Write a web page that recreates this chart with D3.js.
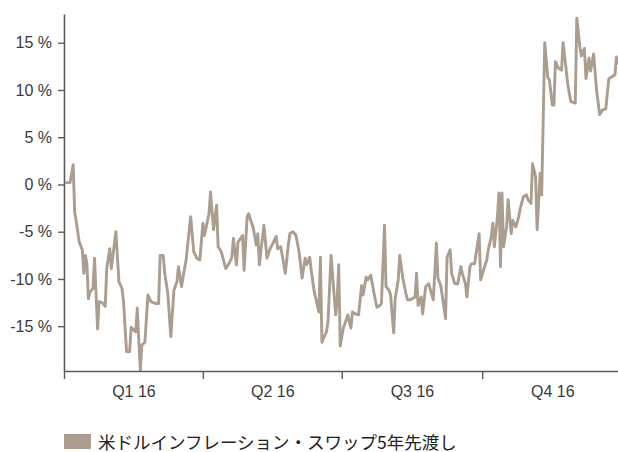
<!DOCTYPE html>
<html><head><meta charset="utf-8">
<script src="https://cdn.jsdelivr.net/npm/d3@7"></script>
<style>body{margin:0;background:#fff} svg{display:block}</style>
</head><body>
<svg id="c" width="618" height="452"></svg>
<script>
const seriesName = "米ドルインフレーション・スワップ5年先渡し";
const startDay = "2016-01-01";
const endDay = "2016-12-29";
// day offsets from 2016-01-01
const dayOffsets = [1,4,6,7,8,10,12,13,14,15,16,17,19,20,22,23,25,27,28,30,31,34,36,38,39,41,43,44,47,48,50,51,53,55,57,60,62,63,65,66,68,70,72,74,75,77,78,80,83,85,87,89,91,92,95,96,98,100,101,103,106,108,110,111,113,114,117,118,120,121,124,126,127,128,131,133,135,137,139,140,142,143,145,147,148,150,152,154,156,158,159,161,162,164,167,168,169,170,172,173,175,178,179,180,181,183,186,188,189,191,193,195,196,198,199,201,203,205,207,208,210,211,213,214,216,217,219,220,222,224,225,227,228,230,231,232,234,235,237,239,241,242,244,245,247,250,251,253,254,256,258,260,261,263,264,266,267,269,272,273,275,277,278,280,281,282,284,285,286,287,288,290,291,293,294,296,298,299,301,303,304,306,307,309,310,312,313,315,317,318,320,321,322,324,326,327,329,330,332,335,336,338,339,341,342,344,345,347,349,351,353,355,357,359,361,362,363];
const swapValues = [0.2,0.2,2.1,-2.9,-3.9,-6.1,-6.9,-9.4,-7.5,-8.4,-12.1,-11.4,-11.0,-7.8,-15.3,-12.4,-12.5,-12.9,-8.9,-6.8,-8.9,-5.0,-10.3,-11.0,-12.4,-17.7,-17.7,-15.1,-15.6,-13.1,-19.7,-17.0,-16.7,-11.7,-12.4,-12.6,-12.6,-7.5,-7.5,-9.4,-11.5,-16.1,-11.2,-10.3,-8.7,-10.8,-9.8,-8.0,-3.4,-7.1,-7.8,-8.0,-4.1,-5.4,-3.1,-0.8,-4.8,-2.2,-6.6,-7.1,-8.9,-8.4,-7.7,-5.7,-8.5,-6.1,-5.4,-9.1,-3.4,-3.1,-4.6,-6.4,-5.2,-8.5,-4.3,-7.8,-6.8,-6.2,-5.5,-6.8,-6.6,-7.5,-9.4,-6.4,-5.2,-5.0,-5.4,-7.1,-9.9,-7.8,-8.5,-7.7,-9.1,-11.4,-13.5,-7.7,-16.7,-16.3,-15.6,-14.5,-7.5,-13.8,-12.2,-8.5,-17.1,-15.2,-13.8,-15.2,-13.5,-13.7,-13.8,-10.7,-11.7,-9.8,-10.1,-9.6,-11.4,-13.0,-12.8,-12.6,-4.3,-10.8,-11.2,-11.7,-15.7,-12.1,-10.1,-7.5,-9.9,-11.5,-12.2,-12.2,-12.1,-11.9,-9.4,-12.8,-11.9,-13.7,-10.8,-10.5,-11.7,-12.2,-6.2,-9.9,-10.8,-14.2,-7.7,-6.9,-9.4,-10.5,-10.5,-8.7,-9.4,-10.5,-11.9,-8.7,-8.4,-8.4,-5.2,-10.1,-9.0,-8.0,-6.9,-5.5,-4.1,-6.6,-3.4,-0.9,-8.7,-0.9,-6.6,-4.5,-1.6,-5.2,-3.8,-4.5,-3.4,-2.5,-1.3,-1.1,-1.6,-2.0,2.2,0.8,-4.8,1.2,-1.1,15.0,11.3,11.1,8.4,8.4,13.0,12.3,12.1,15.0,12.2,10.7,8.8,8.6,17.6,14.6,13.6,14.4,11.2,13.4,12.0,13.8,9.9,7.4,7.9,8.0,11.2,11.4,11.6,13.5,12.7];
const yTicks = [-15,-10,-5,0,5,10,15];
const yMin = -19.74, yMax = 18.04;
const quarterStarts = ["2016-01-01","2016-04-01","2016-07-01","2016-10-01","2017-01-01"];
const quarterLabels = ["Q1 16","Q2 16","Q3 16","Q4 16"];

const parse = d3.timeParse("%Y-%m-%d");
const t0 = parse(startDay);
const data = dayOffsets.map((d,i)=>({date: d3.timeDay.offset(t0, d), v: swapValues[i]}));
const qs = quarterStarts.map(parse);
const qTicks = qs.slice(0,4);
const qMids = qTicks.map((d,i)=> new Date((d.getTime()+qs[i+1].getTime())/2));

const color = "#ab9d8f";
const axisColor = "#5c5c5c";
const svg = d3.select("#c");
const x = d3.scaleTime().domain([t0, parse(endDay)]).range([64, 618]);
const y = d3.scaleLinear().domain([yMin, yMax]).range([371, 14]);

svg.append("path").datum(data)
  .attr("fill","none").attr("stroke",color).attr("stroke-width",2.9)
  .attr("stroke-linejoin","round")
  .attr("d", d3.line().x(d=>x(d.date)).y(d=>y(d.v)));

const font = "'Liberation Sans', Arial, sans-serif";
// y axis
const ya = svg.append("g").attr("transform","translate(64,0)")
  .call(d3.axisLeft(y).tickValues(yTicks).tickSize(6).tickSizeOuter(0).tickPadding(6).tickFormat(d=>d+" %"));
ya.attr("font-family",font).attr("font-size",16);
ya.select(".domain").attr("stroke",axisColor).attr("stroke-width",1.6);
ya.selectAll(".tick line").attr("stroke",axisColor).attr("stroke-width",1.4);
ya.selectAll("text").attr("font-family",font).attr("font-size",16).attr("fill","#3a3a3a");

// x axis
const xa = svg.append("g").attr("transform","translate(0,371)")
  .call(d3.axisBottom(x).tickValues(qTicks).tickSize(8).tickSizeOuter(0).tickFormat(""));
xa.select(".domain").attr("stroke",axisColor).attr("stroke-width",1.6);
xa.selectAll(".tick line").attr("stroke",axisColor).attr("stroke-width",1.4);

const xl = svg.append("g").attr("transform","translate(0,371)")
  .call(d3.axisBottom(x).tickValues(qMids).tickSize(0).tickPadding(14.5).tickFormat((d,i)=>quarterLabels[i]));
xl.attr("font-family",font).attr("font-size",16);
xl.select(".domain").remove();
xl.selectAll("text").attr("font-family",font).attr("font-size",16).attr("fill","#3a3a3a");

// legend
const lg = svg.append("g");
lg.append("rect").attr("x",64).attr("y",434).attr("width",27).attr("height",15).attr("fill",color);
lg.append("text").attr("x",98).attr("y",441).attr("dominant-baseline","central")
  .attr("font-family","'Noto Sans CJK JP', sans-serif").attr("font-size",17.5).attr("fill","#222")
  .text(seriesName);
</script>
</body></html>
